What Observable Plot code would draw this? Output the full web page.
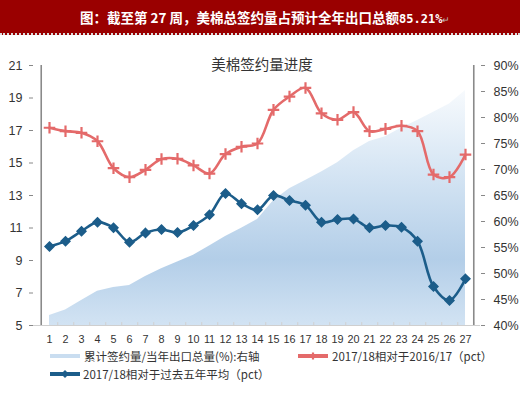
<!DOCTYPE html>
<html>
<head>
<meta charset="utf-8">
<script src="https://cdn.jsdelivr.net/npm/d3@7"></script>
<script src="https://cdn.jsdelivr.net/npm/@observablehq/plot@0.6"></script>
<style>
  html, body { margin: 0; padding: 0; background: #fff; }
  body { width: 520px; height: 393px; position: relative; overflow: hidden;
         font-family: "Liberation Sans", "Noto Sans CJK SC", sans-serif; color: #333; }
  #titlebar { position: absolute; left: 0; top: 0; width: 520px; height: 33px; background: #9a0000;
              border-bottom: 2px dotted #ddd; box-sizing: content-box; }
  #titlebar span.t { position: absolute; left: 80px; top: 7px; color: #fff; font-weight: bold; font-size: 13.5px;
              font-family: "Noto Sans CJK SC", sans-serif; white-space: nowrap; }
  #titlebar span.n { font-family: "DejaVu Sans Mono", monospace; font-size: 12px; }
  #titlebar span.p { color: #bbb; font-size: 9px; font-weight: normal; }
  #chart { position: absolute; left: 0; top: 36px; }
  .lg { position: absolute; font-size: 11.5px; color: #333; white-space: nowrap;
        font-family: "Noto Sans CJK SC", sans-serif; line-height: 14px; }
  .sw { position: absolute; height: 4px; }
</style>
</head>
<body>
<div id="titlebar"><span class="t">图：截至第 27 周，美棉总签约量占预计全年出口总额<span class="n">85.21%</span><span class="p">↵</span></span></div>
<div id="chart"></div>
<div id="legend"></div>
<script>
const weeks = [1,2,3,4,5,6,7,8,9,10,11,12,13,14,15,16,17,18,19,20,21,22,23,24,25,26,27];
// cumulative signed / annual exports (%), right axis
const cumShare = [41.9,43.0,44.8,46.6,47.3,47.7,49.4,50.9,52.2,53.5,55.3,57.1,58.7,60.4,64.0,66.3,67.9,69.5,71.3,73.6,75.4,76.3,78.0,79.4,81.0,82.6,85.21];
// 2017/18 vs 2016/17 (pct), left axis
const vsLastYear = [17.17,16.96,16.86,16.34,14.68,14.13,14.58,15.24,15.26,14.85,14.35,15.55,16.0,16.2,18.27,19.09,19.62,18.06,17.66,18.13,16.96,17.1,17.29,16.96,14.29,14.13,15.52];
// 2017/18 vs 5-year average (pct), left axis
const vsFiveYear = [9.86,10.19,10.8,11.36,11.01,10.13,10.7,10.91,10.72,11.15,11.81,13.12,12.5,12.12,13.0,12.69,12.4,11.36,11.52,11.56,11.01,11.15,11.05,10.19,7.4,6.54,7.87];
const leftTicks = [5,7,9,11,13,15,17,19,21];
const rightTicks = [40,45,50,55,60,65,70,75,80,85,90];
const chartTitle = "美棉签约量进度";
const legendLabels = ["累计签约量/当年出口总量(%):右轴", "2017/18相对于2016/17（pct）", "2017/18相对于过去五年平均（pct）"];

const red = "#e46a6a", blue = "#1c5d8a", lightBlue = "#c9ddf0";
// map right-axis percent onto left-axis units
const toLeft = p => 5 + (p - 40) * 16 / 50;
const toRight = v => 40 + (v - 5) * 50 / 16;

const data = weeks.map((w, i) => ({week: w, share: toLeft(cumShare[i]), a: vsLastYear[i], b: vsFiveYear[i]}));

const plot = Plot.plot({
  width: 520, height: 314,
  marginTop: 29, marginBottom: 25, marginLeft: 33, marginRight: 40,
  style: {fontFamily: "'Liberation Sans', 'Noto Sans CJK SC', sans-serif", fontSize: "12px", color: "#333", background: "transparent"},
  x: {type: "point", domain: weeks, padding: 0.5, axis: null},
  y: {domain: [5, 21], axis: null},
  marks: [
    Plot.areaY(data, {x: "week", y1: 5, y2: "share", fill: "url(#areaGrad)", curve: "linear"}),
    Plot.ruleY([5], {stroke: "#cfcfcf", strokeWidth: 1.2}),
    Plot.ruleX(weeks, {x: d => d, y1: 5, y2: 5.18, dx: 447 / 54, stroke: "#d0d0d0"}),
    Plot.axisX(weeks, {tickSize: 0, tickPadding: 10, fontSize: 10.8, label: null}),
    Plot.axisY(leftTicks, {anchor: "left", tickSize: 4, tickPadding: 7, label: null, stroke: "#888", fontSize: 12.5}),
    Plot.axisY(rightTicks.map(toLeft), {anchor: "right", tickSize: 4, tickPadding: 9, label: null, stroke: "#888", fontSize: 12.5,
      tickFormat: d => Math.round(toRight(d)) + "%"}),
    Plot.ruleX([weeks[0]], {y1: 5, y2: 21, dx: -447 / 54, stroke: "#8a8a8a", strokeWidth: 1.6}),
    Plot.ruleX([weeks[weeks.length - 1]], {y1: 5, y2: 21, dx: 447 / 54, stroke: "#8a8a8a", strokeWidth: 1.6}),
    Plot.line(data, {x: "week", y: "a", stroke: red, strokeWidth: 2.6, curve: "catmull-rom"}),
    Plot.dot(data, {x: "week", y: "a", symbol: "plus", r: 3.8, stroke: red, strokeWidth: 2.2}),
    Plot.line(data, {x: "week", y: "b", stroke: blue, strokeWidth: 2.6, curve: "catmull-rom"}),
    Plot.dot(data, {x: "week", y: "b", symbol: "diamond2", r: 4, fill: blue, stroke: blue}),
    Plot.text([chartTitle], {frameAnchor: "top", lineAnchor: "middle", dx: 5, fontSize: 14.5, fill: "#333",
      fontFamily: "'Noto Sans CJK SC', sans-serif"})
  ]
});

// gradient definition for the area fill
const ns = "http://www.w3.org/2000/svg";
const defs = document.createElementNS(ns, "defs");
defs.innerHTML = `<linearGradient id="areaGrad" x1="0" y1="0" x2="0" y2="1">
  <stop offset="0" stop-color="#f7fafd"/>
  <stop offset="0.3" stop-color="#dae8f5"/>
  <stop offset="0.72" stop-color="#b3cee8"/>
  <stop offset="1" stop-color="#d2e3f3"/>
</linearGradient>`;
plot.insertBefore(defs, plot.firstChild);
document.getElementById("chart").appendChild(plot);

// legend
const lg = document.getElementById("legend");
function swatch(x, y, w, color, marker) {
  const s = document.createElement("div");
  s.className = "sw";
  s.style.left = x + "px"; s.style.top = (y - 2) + "px"; s.style.width = w + "px"; s.style.background = color;
  lg.appendChild(s);
  if (marker) {
    const svg = document.createElementNS(ns, "svg");
    svg.setAttribute("width", 12); svg.setAttribute("height", 12);
    svg.style.position = "absolute"; svg.style.left = (x + w / 2 - 6) + "px"; svg.style.top = (y - 6) + "px";
    svg.innerHTML = marker === "plus"
      ? `<path d="M6 2.5V9.5M2.5 6H9.5" stroke="${color}" stroke-width="2.2"/>`
      : `<path d="M6 2L10 6L6 10L2 6Z" fill="${color}"/>`;
    lg.appendChild(svg);
  }
}
function label(x, y, text) {
  const t = document.createElement("div");
  t.className = "lg"; t.textContent = text;
  t.style.left = x + "px"; t.style.top = (y - 7) + "px";
  lg.appendChild(t);
}
swatch(50, 356, 30, lightBlue, null);
label(84, 356, legendLabels[0]);
swatch(298, 356, 30, red, "plus");
label(332, 356, legendLabels[1]);
swatch(50, 374, 30, blue, "diamond");
label(83, 374, legendLabels[2]);
</script>
</body>
</html>
